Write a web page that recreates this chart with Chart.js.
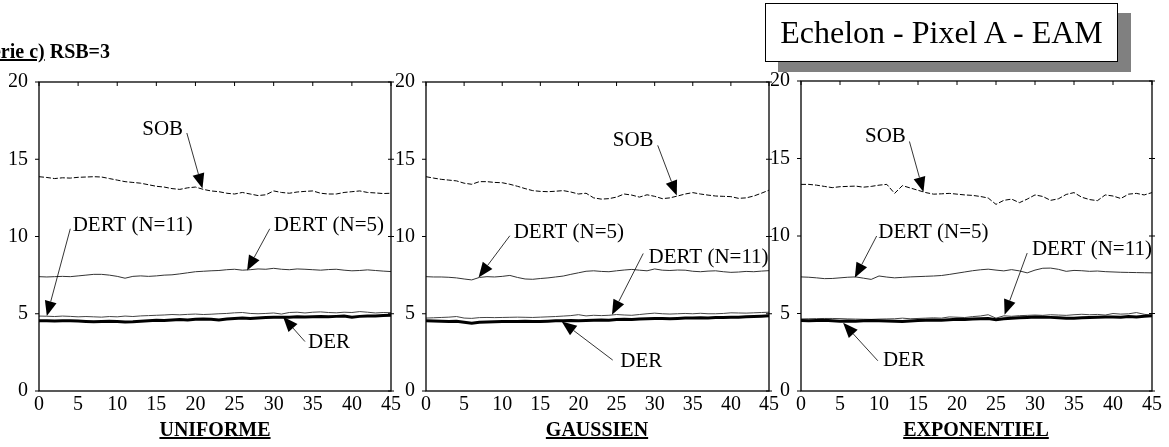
<!DOCTYPE html>
<html>
<head>
<meta charset="utf-8">
<script src="https://cdn.jsdelivr.net/npm/chart.js@4.4.1/dist/chart.umd.min.js"></script>
<style>
  body { margin: 0; background: #fff; }
  #page { position: relative; width: 1169px; height: 447px; overflow: hidden; font-family: "Liberation Serif", "Times New Roman", serif; }
  #page canvas { position: absolute; left: 0; top: 0; }
  .panelTitle { position: absolute; top: 418px; font-weight: bold; font-size: 20px; text-decoration: underline; white-space: nowrap; transform: translateX(-50%); }
  #titleBox { position: absolute; left: 765px; top: 3px; width: 351px; height: 57px; border: 1px solid #000; background: #fff;
              box-shadow: 13px 10px 0 #808080; font-size: 32px; line-height: 57px; text-align: center; white-space: nowrap; }
  #serie { position: absolute; right: 1059px; top: 40px; font-weight: bold; font-size: 20px; white-space: nowrap; }
  #serie u { text-decoration: underline; }
</style>
</head>
<body>
<div id="page">
  <canvas id="c1" width="1169" height="447"></canvas>
  <canvas id="c2" width="1169" height="447"></canvas>
  <canvas id="c3" width="1169" height="447"></canvas>
  <div id="serie"><u>Série c)</u> RSB=3</div>
  <div id="titleBox">Echelon - Pixel A - EAM</div>
  <div class="panelTitle" style="left:215px">UNIFORME</div>
  <div class="panelTitle" style="left:597px">GAUSSIEN</div>
  <div class="panelTitle" style="left:976px">EXPONENTIEL</div>
</div>
<script>
// x positions (0..45) and tick labels
const steps = [0,1,2,3,4,5,6,7,8,9,10,11,12,13,14,15,16,17,18,19,20,21,22,23,24,25,26,27,28,29,30,31,32,33,34,35,36,37,38,39,40,41,42,43,44,45];
const xTicks = [0, 5, 10, 15, 20, 25, 30, 35, 40, 45];
const yTicks = [0, 5, 10, 15, 20];

// UNIFORME
const sobUni = [13.87,13.82,13.75,13.8,13.78,13.83,13.85,13.87,13.85,13.75, 13.65,13.55,13.5,13.45,13.35,13.25,13.2,13.1,13.05,13.15, 13.2,13.05,12.95,12.9,12.8,12.75,12.85,12.75,12.65,12.7, 12.95,12.85,12.8,12.88,12.92,12.95,12.8,12.75,12.75,12.85, 12.9,12.95,12.85,12.82,12.78,12.8];
const dert5Uni = [7.4,7.38,7.4,7.42,7.4,7.45,7.5,7.55,7.55,7.5, 7.42,7.3,7.42,7.45,7.42,7.45,7.5,7.52,7.58,7.65, 7.72,7.75,7.78,7.8,7.85,7.88,7.82,7.85,7.9,7.88, 7.94,7.88,7.85,7.9,7.88,7.85,7.82,7.86,7.88,7.82, 7.78,7.8,7.84,7.8,7.76,7.73];
const dert11Uni = [4.85,4.84,4.82,4.85,4.83,4.8,4.82,4.8,4.78,4.82, 4.8,4.85,4.82,4.86,4.88,4.9,4.92,4.95,4.93,4.96, 4.98,4.95,4.97,5.0,5.02,5.06,5.08,5.02,5.0,5.02, 5.05,4.98,5.08,5.1,5.05,5.1,5.12,5.08,5.06,5.1, 5.08,5.14,5.1,5.05,5.08,5.07];
const derUni = [4.55,4.55,4.53,4.54,4.55,4.53,4.5,4.48,4.5,4.52, 4.5,4.46,4.48,4.52,4.55,4.58,4.57,4.6,4.62,4.6, 4.65,4.66,4.64,4.6,4.66,4.7,4.72,4.7,4.73,4.75, 4.77,4.78,4.78,4.8,4.79,4.81,4.82,4.8,4.83,4.85, 4.78,4.83,4.86,4.85,4.88,4.9];

// GAUSSIEN
const sobGau = [13.87,13.78,13.7,13.65,13.6,13.45,13.38,13.55,13.55,13.5, 13.48,13.38,13.25,13.1,12.97,12.92,12.9,12.93,12.97,12.88, 12.75,12.8,12.5,12.42,12.45,12.55,12.75,12.68,12.55,12.7, 12.6,12.45,12.5,12.62,12.75,12.84,12.75,12.68,12.62,12.6, 12.58,12.47,12.5,12.62,12.8,13.0];
const dert5Gau = [7.4,7.38,7.38,7.36,7.32,7.25,7.19,7.35,7.4,7.38, 7.42,7.48,7.35,7.25,7.23,7.28,7.32,7.38,7.44,7.55, 7.65,7.75,7.78,7.74,7.72,7.78,7.83,7.87,7.82,7.78, 7.9,7.82,7.8,7.83,7.82,7.75,7.72,7.76,7.78,7.72, 7.68,7.7,7.74,7.72,7.76,7.79];
const dert11Gau = [4.72,4.74,4.76,4.78,4.82,4.72,4.7,4.75,4.76,4.75, 4.76,4.77,4.78,4.77,4.76,4.78,4.8,4.82,4.85,4.88, 4.94,4.86,4.9,4.88,4.9,4.95,4.92,4.9,4.95,5.0, 5.04,5.0,4.98,5.0,5.02,5.0,5.03,5.0,5.0,5.02, 5.06,5.05,5.04,5.06,5.08,5.1];
const derGau = [4.55,4.53,4.52,4.5,4.52,4.45,4.38,4.45,4.47,4.48, 4.5,4.5,4.5,4.51,4.5,4.5,4.52,4.54,4.55,4.56, 4.55,4.56,4.58,4.6,4.58,4.62,4.64,4.63,4.66,4.68, 4.7,4.7,4.68,4.7,4.72,4.72,4.74,4.73,4.75,4.76, 4.77,4.78,4.8,4.82,4.84,4.87];

// EXPONENTIEL
const sobExp = [13.33,13.33,13.28,13.2,13.12,13.18,13.2,13.22,13.15,13.2, 13.28,13.33,12.75,13.25,13.1,12.95,12.8,12.7,12.72,12.75, 12.7,12.65,12.62,12.55,12.45,12.04,12.3,12.38,12.15,12.38, 12.65,12.55,12.3,12.4,12.68,12.8,12.5,12.35,12.28,12.65, 12.58,12.42,12.7,12.75,12.65,12.8];
const dert5Exp = [7.36,7.34,7.3,7.25,7.26,7.3,7.34,7.36,7.28,7.2, 7.42,7.35,7.3,7.33,7.36,7.38,7.4,7.42,7.45,7.52, 7.6,7.68,7.76,7.82,7.86,7.8,7.75,7.83,7.75,7.62, 7.8,7.92,7.93,7.85,7.72,7.78,7.76,7.72,7.74,7.7, 7.68,7.66,7.65,7.64,7.63,7.62];
const dert11Exp = [4.65,4.66,4.67,4.68,4.68,4.67,4.65,4.64,4.63,4.62, 4.64,4.65,4.66,4.7,4.66,4.68,4.7,4.72,4.7,4.78, 4.76,4.74,4.8,4.84,4.92,4.7,4.85,4.82,4.86,4.88, 4.9,4.88,4.92,4.9,4.88,4.92,4.95,4.92,4.94,4.9, 5.0,4.96,4.98,5.06,4.95,4.88];
const derExp = [4.55,4.54,4.55,4.56,4.53,4.5,4.52,4.5,4.53,4.55, 4.54,4.52,4.5,4.49,4.52,4.55,4.56,4.58,4.57,4.6, 4.63,4.62,4.65,4.66,4.68,4.6,4.66,4.7,4.72,4.74, 4.77,4.76,4.75,4.73,4.7,4.69,4.72,4.74,4.76,4.78, 4.77,4.76,4.8,4.78,4.83,4.85];

const FONT = '"Liberation Serif", "Times New Roman", serif';

// arrow labels: text at (tx,ty), arrow from (fx,fy) to tip (px,py), in data units
const notesUni = [
  { text: 'SOB', tx: 13.2, ty: 16.95, fx: 18.9, fy: 16.7, px: 20.9, py: 13.1 },
  { text: 'DERT (N=11)', tx: 4.3, ty: 10.74, fx: 4.0, fy: 10.5, px: 1.0, py: 4.85 },
  { text: 'DERT (N=5)', tx: 30.0, ty: 10.74, fx: 29.5, fy: 10.5, px: 26.6, py: 7.8 },
  { text: 'DER', tx: 34.4, ty: 3.14, fx: 34.0, fy: 3.2, px: 31.2, py: 4.8 }
];
const notesGau = [
  { text: 'SOB', tx: 24.5, ty: 16.2, fx: 30.4, fy: 15.9, px: 32.9, py: 12.65 },
  { text: 'DERT (N=5)', tx: 11.5, ty: 10.29, fx: 11.0, fy: 10.05, px: 6.9, py: 7.35 },
  { text: 'DERT (N=11)', tx: 29.2, ty: 8.64, fx: 28.5, fy: 8.9, px: 24.4, py: 4.93 },
  { text: 'DER', tx: 25.5, ty: 1.94, fx: 24.5, fy: 2.0, px: 17.8, py: 4.5 }
];
const notesExp = [
  { text: 'SOB', tx: 8.2, ty: 16.4, fx: 13.9, fy: 16.1, px: 15.7, py: 12.84 },
  { text: 'DERT (N=5)', tx: 9.9, ty: 10.23, fx: 9.7, fy: 10.0, px: 6.9, py: 7.3 },
  { text: 'DERT (N=11)', tx: 29.6, ty: 9.13, fx: 29.0, fy: 8.9, px: 26.1, py: 4.92 },
  { text: 'DER', tx: 10.5, ty: 1.94, fx: 9.85, fy: 1.95, px: 5.4, py: 4.4 }
];

// frame with small ticks, like the old plotting package
const framePlugin = {
  id: 'frame',
  afterDatasetsDraw(chart) {
    const { ctx, chartArea: a, scales: { x, y } } = chart;
    ctx.save();
    ctx.strokeStyle = '#000';
    ctx.lineWidth = 1.3;
    ctx.strokeRect(a.left, a.top, a.right - a.left, a.bottom - a.top);
    ctx.lineWidth = 1;
    ctx.beginPath();
    xTicks.forEach(v => {
      const px = x.getPixelForValue(v);
      ctx.moveTo(px, a.top); ctx.lineTo(px, a.top + 4);
    });
    yTicks.forEach(v => {
      const py = y.getPixelForValue(v);
      ctx.moveTo(a.left - 4, py); ctx.lineTo(a.left, py);
      ctx.moveTo(a.right - 3, py); ctx.lineTo(a.right + 3, py);
    });
    ctx.stroke();
    ctx.restore();
  }
};

const notesPlugin = {
  id: 'notes',
  afterDraw(chart, args, opts) {
    const { ctx, scales: { x, y } } = chart;
    ctx.save();
    ctx.font = '21px ' + FONT;
    ctx.fillStyle = '#000';
    ctx.strokeStyle = '#000';
    ctx.lineWidth = 0.8;
    ctx.textAlign = 'left';
    ctx.textBaseline = 'middle';
    (opts.items || []).forEach(n => {
      ctx.fillText(n.text, x.getPixelForValue(n.tx), y.getPixelForValue(n.ty));
      const x0 = x.getPixelForValue(n.fx), y0 = y.getPixelForValue(n.fy);
      const x1 = x.getPixelForValue(n.px), y1 = y.getPixelForValue(n.py);
      const ang = Math.atan2(y1 - y0, x1 - x0);
      const len = 15, half = 6;
      const bx = x1 - len * Math.cos(ang), by = y1 - len * Math.sin(ang);
      ctx.beginPath();
      ctx.moveTo(x0, y0); ctx.lineTo(bx, by);
      ctx.stroke();
      ctx.beginPath();
      ctx.moveTo(x1, y1);
      ctx.lineTo(bx + half * Math.sin(ang), by - half * Math.cos(ang));
      ctx.lineTo(bx - half * Math.sin(ang), by + half * Math.cos(ang));
      ctx.closePath();
      ctx.fill();
    });
    ctx.restore();
  }
};

function pts(vals) {
  return steps.map((s, i) => ({ x: s, y: vals[i] }));
}

function makePanel(id, area, sob, dert5, dert11, der, notes) {
  const yW = 30, xH = 25;
  new Chart(document.getElementById(id), {
    type: 'line',
    data: {
      datasets: [
        { label: 'SOB', data: pts(sob), borderColor: '#000', borderWidth: 1, borderDash: [5, 2] },
        { label: 'DERT (N=5)', data: pts(dert5), borderColor: '#333', borderWidth: 1 },
        { label: 'DER', data: pts(der), borderColor: '#000', borderWidth: 3 },
        { label: 'DERT (N=11)', data: pts(dert11), borderColor: '#444', borderWidth: 1 }
      ]
    },
    options: {
      responsive: false,
      animation: false,
      devicePixelRatio: 1,
      events: [],
      elements: { point: { radius: 0 }, line: { tension: 0 } },
      layout: {
        padding: { left: area.left - yW, right: 1169 - area.right, top: area.top, bottom: 447 - area.bottom - xH }
      },
      scales: {
        x: {
          type: 'linear', min: 0, max: 45,
          afterBuildTicks: s => { s.ticks = xTicks.map(v => ({ value: v })); },
          afterFit: s => { s.height = xH; },
          grid: { display: false }, border: { display: false },
          ticks: { color: '#000', font: { family: FONT, size: 20 }, padding: -6, maxRotation: 0, autoSkip: false }
        },
        y: {
          min: 0, max: 20,
          afterBuildTicks: s => { s.ticks = yTicks.map(v => ({ value: v })); },
          afterFit: s => { s.width = yW; },
          grid: { display: false }, border: { display: false },
          ticks: { color: '#000', font: { family: FONT, size: 20 }, padding: 3 }
        }
      },
      plugins: {
        legend: { display: false },
        tooltip: { enabled: false },
        notes: { items: notes }
      }
    },
    plugins: [framePlugin, notesPlugin]
  });
}

makePanel('c1', { left: 39, right: 391, top: 82, bottom: 391 }, sobUni, dert5Uni, dert11Uni, derUni, notesUni);
makePanel('c2', { left: 426, right: 769, top: 82, bottom: 391 }, sobGau, dert5Gau, dert11Gau, derGau, notesGau);
makePanel('c3', { left: 801, right: 1152, top: 81, bottom: 391 }, sobExp, dert5Exp, dert11Exp, derExp, notesExp);
</script>
</body>
</html>
